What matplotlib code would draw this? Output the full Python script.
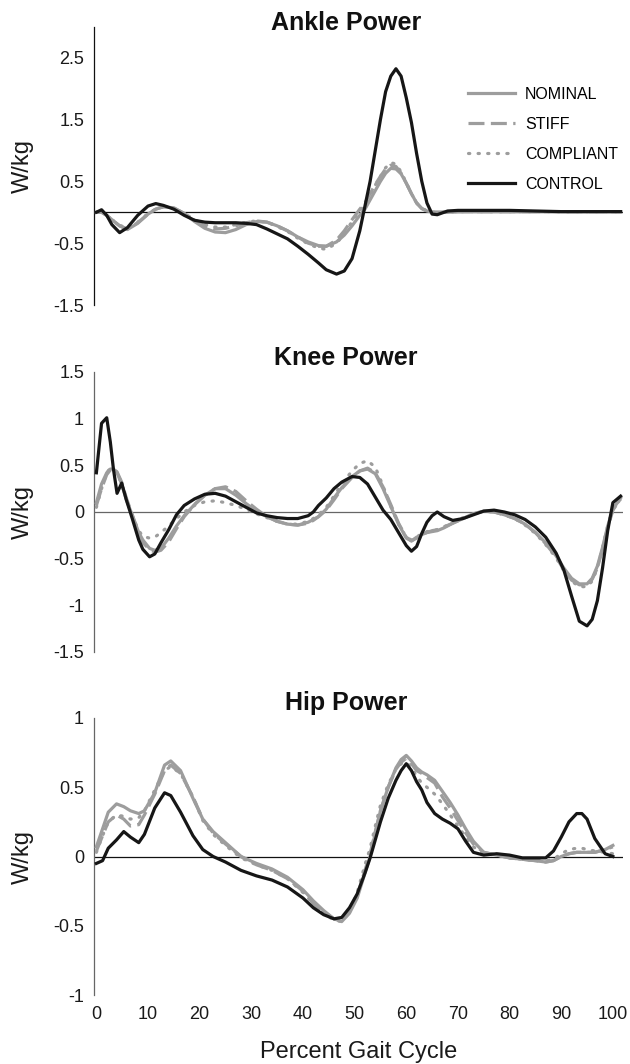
import numpy as np
import matplotlib
matplotlib.use("Agg")
import matplotlib.pyplot as plt


# Fonts
# -----
plt.rcParams['font.family'] = ['Liberation Sans', 'DejaVu Sans']
plt.rcParams['axes.unicode_minus'] = False


# Data (percent gait cycle -> W/kg)
# ------------------------------------------------------
series_names = ["NOMINAL", "STIFF", "COMPLIANT", "CONTROL"]

# Ankle
ankle_pct = [0, 1, 2, 3, 4.5, 6, 8, 10, 11.5, 13,
             15, 17, 19, 21, 23, 25, 27, 29, 31, 33,
             35, 37, 39, 41, 43, 44.5, 46.5, 48, 49.5, 51,
             52, 53, 54, 55, 56, 57, 58, 59, 60, 61,
             62, 63, 64, 65, 66, 68, 70, 75, 80, 85,
             90, 95, 101.5]
ankle_nominal = [0.0, 0.0, -0.05, -0.12, -0.22, -0.28, -0.18, -0.03, 0.05, 0.09,
                 0.07, -0.02, -0.15, -0.26, -0.32, -0.33, -0.28, -0.2, -0.15, -0.16,
                 -0.22, -0.3, -0.4, -0.48, -0.54, -0.55, -0.48, -0.37, -0.22, -0.05,
                 0.05, 0.2, 0.35, 0.5, 0.63, 0.71, 0.7, 0.62, 0.47, 0.3,
                 0.15, 0.06, 0.02, 0.0, 0.0, 0.0, 0.01, 0.01, 0.01, 0.01,
                 0.01, 0.01, 0.01]
ankle_stiff = [0.0, 0.0, -0.05, -0.12, -0.22, -0.27, -0.17, -0.03, 0.05, 0.09,
               0.07, -0.02, -0.13, -0.22, -0.27, -0.26, -0.22, -0.17, -0.14, -0.16,
               -0.22, -0.3, -0.4, -0.5, -0.55, -0.55, -0.45, -0.3, -0.12, 0.05,
               0.15, 0.3, 0.45, 0.58, 0.7, 0.76, 0.74, 0.63, 0.47, 0.3,
               0.15, 0.06, 0.02, 0.0, 0.0, 0.0, 0.01, 0.01, 0.01, 0.01,
               0.01, 0.01, 0.01]
ankle_compliant = [0.0, 0.0, -0.05, -0.12, -0.21, -0.26, -0.16, -0.02, 0.05, 0.09,
                   0.07, -0.02, -0.12, -0.2, -0.24, -0.24, -0.2, -0.16, -0.14, -0.16,
                   -0.23, -0.31, -0.42, -0.51, -0.58, -0.6, -0.5, -0.35, -0.15, 0.02,
                   0.13, 0.28, 0.44, 0.58, 0.72, 0.8, 0.78, 0.65, 0.48, 0.3,
                   0.15, 0.06, 0.02, 0.0, 0.0, 0.0, 0.01, 0.01, 0.01, 0.01,
                   0.01, 0.01, 0.01]
ankle_control = [0.0, 0.04, -0.05, -0.2, -0.33, -0.25, -0.05, 0.1, 0.14, 0.11,
                 0.05, -0.05, -0.13, -0.16, -0.17, -0.17, -0.17, -0.18, -0.2, -0.27,
                 -0.35, -0.43, -0.55, -0.68, -0.82, -0.93, -1.0, -0.95, -0.75, -0.3,
                 0.1, 0.5, 1.0, 1.5, 1.95, 2.2, 2.32, 2.2, 1.85, 1.45,
                 0.95, 0.5, 0.15, -0.03, -0.04, 0.02, 0.03, 0.03, 0.03, 0.02,
                 0.01, 0.01, 0.01]

# Knee
knee_pct = [0, 1, 2, 2.7, 3.3, 4, 4.9, 5.8, 7, 8.2,
            9, 10.3, 11.3, 12.5, 14, 15.5, 17, 19, 21, 23,
            25, 27, 29, 31, 33, 35, 37, 39, 41, 42,
            43, 44.5, 46, 47.5, 49.5, 51, 52.5, 54, 55.5, 57,
            58.5, 60, 61, 62, 63, 64, 65, 66, 67.3, 69,
            71, 73, 75, 77, 79, 81, 83, 85, 87, 89,
            90.5, 92, 93.5, 95, 96, 97, 98, 99, 100, 101.5]
knee_nominal = [0.1, 0.3, 0.42, 0.46, 0.46, 0.42, 0.3, 0.13, -0.04, -0.22,
                -0.3, -0.39, -0.41, -0.39, -0.28, -0.15, -0.04, 0.08, 0.18, 0.25,
                0.25, 0.18, 0.09, 0.01, -0.05, -0.1, -0.13, -0.14, -0.11, -0.08,
                -0.05, 0.03, 0.15, 0.26, 0.38, 0.44, 0.46, 0.41, 0.25, 0.06,
                -0.13, -0.28, -0.31, -0.28, -0.24, -0.22, -0.21, -0.2, -0.17, -0.12,
                -0.07, -0.02, 0.01, 0.0, -0.03, -0.07, -0.13, -0.22, -0.33, -0.47,
                -0.6, -0.71, -0.77, -0.77, -0.71, -0.58, -0.38, -0.15, 0.03, 0.15]
knee_stiff = [0.07, 0.25, 0.4, 0.45, 0.46, 0.43, 0.32, 0.15, -0.04, -0.24,
              -0.33, -0.4, -0.43, -0.41, -0.32, -0.18, -0.05, 0.08, 0.18, 0.25,
              0.27, 0.22, 0.12, 0.03, -0.05, -0.1, -0.13, -0.14, -0.12, -0.09,
              -0.05, 0.02, 0.13, 0.25, 0.37, 0.44, 0.47, 0.42, 0.27, 0.08,
              -0.12, -0.27, -0.31, -0.27, -0.24, -0.22, -0.2, -0.19, -0.16, -0.12,
              -0.07, -0.02, 0.01, 0.0, -0.03, -0.07, -0.13, -0.22, -0.34, -0.48,
              -0.62, -0.73, -0.78, -0.78, -0.72, -0.6, -0.4, -0.17, 0.02, 0.14]
knee_compliant = [0.05, 0.25, 0.42, 0.47, 0.47, 0.42, 0.3, 0.13, -0.05, -0.2,
                  -0.26, -0.28, -0.27, -0.22, -0.15, -0.07, 0.0, 0.07, 0.11, 0.12,
                  0.1, 0.07, 0.03, -0.02, -0.06, -0.1, -0.13, -0.13, -0.1, -0.07,
                  -0.03, 0.05, 0.17, 0.3, 0.44, 0.52, 0.55, 0.48, 0.28, 0.06,
                  -0.13, -0.27, -0.3, -0.27, -0.23, -0.21, -0.2, -0.19, -0.16, -0.11,
                  -0.06, -0.02, 0.01, 0.0, -0.03, -0.07, -0.14, -0.23, -0.35, -0.49,
                  -0.63, -0.74, -0.8, -0.8, -0.74, -0.6, -0.38, -0.15, 0.03, 0.14]
knee_control = [0.42, 0.95, 1.01, 0.75, 0.46, 0.2, 0.31, 0.13, -0.08, -0.3,
                -0.4, -0.48, -0.45, -0.33, -0.19, -0.03, 0.07, 0.14, 0.19, 0.2,
                0.17, 0.11, 0.05, -0.01, -0.04, -0.06, -0.07, -0.07, -0.04, 0.0,
                0.07, 0.15, 0.25, 0.32, 0.38, 0.37, 0.3, 0.16, 0.02, -0.08,
                -0.22, -0.36, -0.42, -0.37, -0.23, -0.11, -0.04, 0.0, -0.05, -0.09,
                -0.07, -0.03, 0.01, 0.02, 0.0, -0.03, -0.08, -0.16, -0.27, -0.44,
                -0.62, -0.9, -1.17, -1.22, -1.15, -0.95, -0.6, -0.2, 0.1, 0.17]

# Hip
hip_pct = [0, 1.2, 2.3, 3.9, 5.3, 6.6, 8.2, 9.3, 11.3, 13.2,
           14.4, 16.3, 18.7, 20.6, 22.6, 25, 28, 31, 34, 37,
           40, 42, 44, 46, 47.5, 49, 50.5, 52, 53, 54,
           55, 56.5, 58, 59, 60, 61, 62, 63, 64, 65.5,
           67, 68.5, 70, 71.5, 73, 75, 77.5, 80, 82.5, 85,
           87, 88.5, 90, 91.5, 93, 94, 95, 96.5, 98.5, 100]
hip_nominal = [0.07, 0.2, 0.32, 0.38, 0.36, 0.33, 0.31, 0.33, 0.46, 0.66,
               0.69, 0.62, 0.42, 0.27, 0.18, 0.1, 0.0, -0.05, -0.09, -0.15,
               -0.24, -0.32, -0.39, -0.45, -0.47, -0.41, -0.3, -0.12, 0.0, 0.17,
               0.33, 0.5, 0.64, 0.7, 0.73, 0.69, 0.64, 0.61, 0.59, 0.55,
               0.47, 0.39, 0.3, 0.2, 0.11, 0.03, 0.01, -0.01, -0.02, -0.03,
               -0.04, -0.03, 0.0, 0.02, 0.03, 0.03, 0.03, 0.03, 0.05, 0.08]
hip_stiff = [0.04, 0.15, 0.25, 0.3, 0.27, 0.22, 0.23, 0.3, 0.45, 0.62,
             0.66, 0.6, 0.43, 0.27, 0.17, 0.09, 0.0, -0.06, -0.1, -0.16,
             -0.25, -0.34, -0.4, -0.45, -0.46, -0.4, -0.28, -0.1, 0.02, 0.18,
             0.33, 0.5, 0.63, 0.68, 0.71, 0.67, 0.62, 0.6, 0.57, 0.53,
             0.43, 0.35, 0.26, 0.17, 0.09, 0.03, 0.01, -0.01, -0.02, -0.03,
             -0.04, -0.03, 0.0, 0.02, 0.03, 0.03, 0.03, 0.03, 0.05, 0.07]
hip_compliant = [0.03, 0.15, 0.25, 0.3, 0.29, 0.27, 0.28, 0.33, 0.48, 0.62,
                 0.65, 0.6, 0.43, 0.26, 0.16, 0.08, -0.01, -0.06, -0.1, -0.16,
                 -0.26, -0.34, -0.41, -0.46, -0.47, -0.4, -0.26, -0.06, 0.06, 0.22,
                 0.37, 0.52, 0.63, 0.67, 0.68, 0.64, 0.58, 0.53, 0.5, 0.45,
                 0.38, 0.3, 0.22, 0.14, 0.07, 0.02, 0.01, -0.01, -0.02, -0.03,
                 -0.03, -0.02, 0.02, 0.05, 0.06, 0.06, 0.05, 0.04, 0.03, 0.02]
hip_control = [-0.05, -0.03, 0.06, 0.12, 0.18, 0.14, 0.1, 0.16, 0.35, 0.46,
               0.44, 0.32, 0.15, 0.05, 0.0, -0.04, -0.1, -0.14, -0.17, -0.22,
               -0.3, -0.37, -0.42, -0.45, -0.44, -0.37, -0.27, -0.12, -0.01, 0.12,
               0.25, 0.42, 0.55, 0.62, 0.67, 0.62, 0.54, 0.48, 0.39, 0.31,
               0.27, 0.24, 0.2, 0.11, 0.03, 0.01, 0.02, 0.01, -0.01, -0.01,
               -0.01, 0.04, 0.14, 0.25, 0.31, 0.31, 0.27, 0.13, 0.02, 0.0]

# Axis ticks
ankle_yticks = [-1.5, -0.5, 0.5, 1.5, 2.5]
ankle_ylabels = ["-1.5", "-0.5", "0.5", "1.5", "2.5"]
knee_yticks = [-1.5, -1, -0.5, 0, 0.5, 1, 1.5]
knee_ylabels = ["-1.5", "-1", "-0.5", "0", "0.5", "1", "1.5"]
hip_yticks = [-1, -0.5, 0, 0.5, 1]
hip_ylabels = ["-1", "-0.5", "0", "0.5", "1"]
x_ticks = [0, 10, 20, 30, 40, 50, 60, 70, 80, 90, 100]
x_labels = ["0", "10", "20", "30", "40", "50", "60", "70", "80", "90", "100"]


# Styles
# ------
GRAY = '#9d9d9d'
BLACK = '#161616'
lineStyles = [
    dict(color=GRAY, linestyle='-', linewidth=2.3),
    dict(color=GRAY, linestyle=(0, (5, 2)), linewidth=2.3),
    dict(color=GRAY, linestyle=(0, (0.4, 2.6)), linewidth=2.3, dash_capstyle='round'),
    dict(color=BLACK, linestyle='-', linewidth=2.3),
]

W, H = 630, 1064
xMin, xMax = -0.5, 102
left = 93.8 / W
width = (623.2 - 93.8) / W


def panel(top, bottom, x, curves, yLim, yTicks, yLabels, title, spineColor, zeroColor, titleY):
    ax = fig.add_axes([left, 1 - bottom / H, width, (bottom - top) / H])
    ax.axhline(0, color=zeroColor, linewidth=0.9, zorder=1)
    handles = []
    for values, style in zip(curves, lineStyles):
        h, = ax.plot(x, values, zorder=3, **style)
        handles.append(h)
    ax.set_xlim(xMin, xMax)
    ax.set_ylim(*yLim)
    ax.set_yticks(yTicks)
    ax.set_yticklabels(yLabels)
    for side in ['top', 'right', 'bottom']:
        ax.spines[side].set_visible(False)
    ax.spines['left'].set_color(spineColor)
    ax.spines['left'].set_linewidth(0.9)
    ax.tick_params(axis='y', length=0, pad=7, labelsize=13, labelcolor='#1a1a1a')
    ax.set_ylabel('W/kg', fontsize=17, color='#1a1a1a')
    ax.yaxis.set_label_coords(-0.134, 0.5)
    ax.yaxis.label.set_verticalalignment('center')
    ax.text(0.476, titleY, title, transform=ax.transAxes, ha='center', va='center',
            fontsize=18, fontweight='bold', color='#111111')
    ax.patch.set_visible(False)
    return ax, handles


fig = plt.figure(figsize=(W / 100, H / 100), dpi=100)

axA, handles = panel(26.7, 305, ankle_pct,
                     [ankle_nominal, ankle_stiff, ankle_compliant, ankle_control],
                     (-1.5, 3.0), ankle_yticks, ankle_ylabels, 'Ankle Power',
                     '#111111', '#111111', 1.013)
axA.set_xticks([])

axK, _ = panel(372, 652, knee_pct,
               [knee_nominal, knee_stiff, knee_compliant, knee_control],
               (-1.5, 1.5), knee_yticks, knee_ylabels, 'Knee Power',
               '#666666', '#666666', 1.05)
axK.set_xticks([])

axH, _ = panel(718, 995, hip_pct,
               [hip_nominal, hip_stiff, hip_compliant, hip_control],
               (-1.0, 1.0), hip_yticks, hip_ylabels, 'Hip Power',
               '#666666', '#111111', 1.054)
axH.set_xticks(x_ticks)
axH.set_xticklabels(x_labels)
axH.tick_params(axis='x', length=0, pad=8, labelsize=13, labelcolor='#1a1a1a')
axH.set_xlabel('Percent Gait Cycle', fontsize=17, color='#1a1a1a', labelpad=13)

# Legend in the ankle panel
fig.legend(handles, series_names, loc='upper left',
           bbox_to_anchor=(468 / W, 1 - 87 / H), bbox_transform=fig.transFigure,
           frameon=False, fontsize=11.5, handlelength=2.95, handletextpad=0.62,
           labelspacing=0.93, borderpad=0, borderaxespad=0)

plt.savefig('out.png', dpi=100)
